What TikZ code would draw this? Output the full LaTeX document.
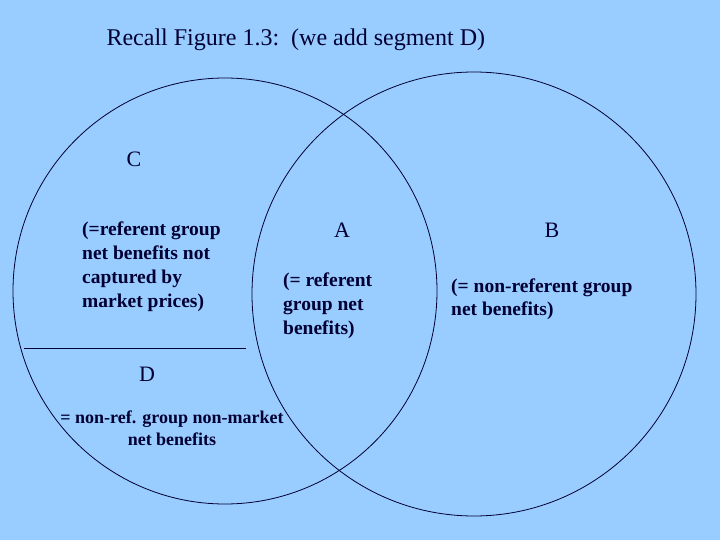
\documentclass[tikz,border=0pt]{standalone}
\usepackage{fontspec}
\setmainfont{Liberation Serif}
\usetikzlibrary{positioning}
\definecolor{bgblue}{HTML}{99CCFF}
\definecolor{ink}{HTML}{000033}
\begin{document}
\begin{tikzpicture}[x=1pt,y=-1pt,
    letter/.style={text=ink,font=\fontsize{22}{24}\selectfont},
    note/.style={text=ink,inner sep=0pt,anchor=north west,align=left,
        font=\fontsize{19.5}{24}\bfseries\selectfont}]
\fill[bgblue] (0,0) rectangle (720,540);
\useasboundingbox (0,0) rectangle (720,540);
\node (title) [text=ink,anchor=west,font=\fontsize{24}{28}\selectfont]
    at (103,40) {Recall Figure 1.3:\ \ (we add segment D)};
%
\draw[ink,line width=0.8pt] (225,291) ellipse [x radius=212pt, y radius=213pt];
\draw[ink,line width=0.8pt] (474,294) ellipse [x radius=222pt, y radius=222pt];
%
\coordinate (dl) at (24,348);
\coordinate (dr) at (246,348);
\draw[ink,line width=0.8pt] (dl) -- (dr);
%
\node (lblC) [letter] at (134,159) {C};
\node (lblA) [letter] at (342,230) {A};
\node (lblB) [letter] at (552,230) {B};
\node (lblD) [letter] at (147,374) {D};
%
\node (txtC) [note] at (82,222) {(=referent group\\net benefits not\\captured by\\market prices)};
\node (txtA) [note] at (283,273) {(= referent\\group net\\benefits)};
\node (txtB) [note,font=\fontsize{19.5}{23}\bfseries\selectfont] at (451,279) {(= non-referent group\\net benefits)};
\node (txtD) [note,anchor=north,align=center,font=\fontsize{18}{22}\bfseries\selectfont]
    at (172,411) {= non-ref. group non-market\\net benefits};
\end{tikzpicture}
\end{document}
